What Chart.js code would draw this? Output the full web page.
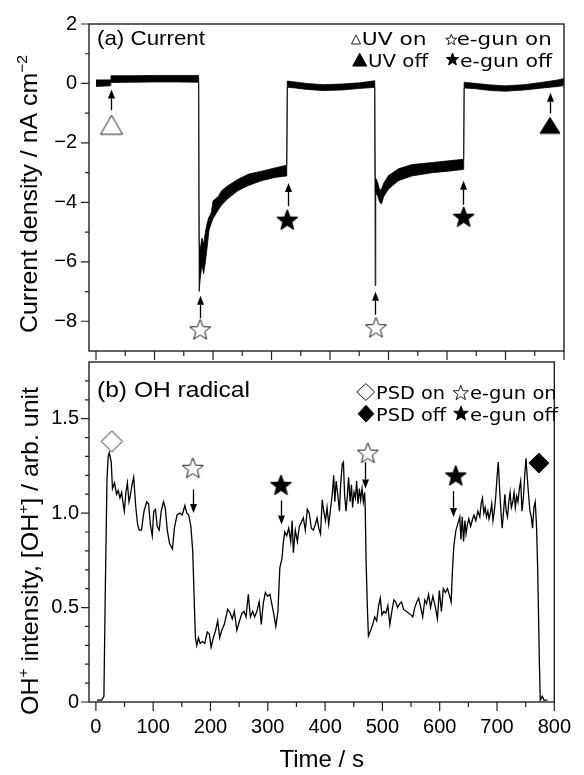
<!DOCTYPE html>
<html>
<head>
<meta charset="utf-8">
<script src="https://cdn.jsdelivr.net/npm/chart.js@4/dist/chart.umd.min.js"></script>
<style>
    html, body { margin: 0; padding: 0; background: #fff; }
    #wrap { position: relative; width: 584px; height: 775px; overflow: hidden; }
    #topCanvas { position: absolute; left: 0; top: 0; }
    #bottomCanvas { position: absolute; left: 0; top: 340px; }
</style>
</head>
<body>
<div id="wrap">
    <canvas id="bottomCanvas" width="584" height="435"></canvas>
    <canvas id="topCanvas" width="584" height="375"></canvas>
</div>
<script>
// (a) current density: the trace is a dense noisy band, kept as [time, upper edge, lower edge]
const currentBand = [
    [0, 0.12, -0.1], [24, 0.12, -0.08], [25.5, 0.26, 0.03], [60, 0.26, 0.04], [100, 0.27, 0.05],
    [140, 0.27, 0.05], [175.5, 0.27, 0.04],
    [176.3, -5.3, -7.0], [178, -5.6, -6.6], [181, -5.2, -6.1], [184, -5.4, -6.4], [187, -5.0, -6.0],
    [190, -4.7, -5.5], [193, -4.5, -4.95], [197, -4.35, -4.7], [200, -3.95, -4.55], [209, -3.8, -4.25],
    [215, -3.6, -4.08], [226, -3.43, -3.86], [243, -3.22, -3.6], [261, -3.05, -3.43], [283, -2.95, -3.27],
    [306, -2.84, -3.16], [326, -2.75, -3.11],
    [327, 0.08, -0.13], [340, 0.05, -0.15], [360, 0.0, -0.2], [388, -0.04, -0.24], [420, -0.02, -0.22],
    [450, 0.02, -0.17], [476.5, 0.09, -0.13],
    [477.2, -3.15, -6.8], [478.2, -3.15, -3.7], [481, -3.3, -3.75], [485, -3.6, -4.0], [488, -3.55, -4.05],
    [492, -3.35, -3.8], [500, -3.1, -3.55], [517, -2.87, -3.27], [540, -2.73, -3.11], [575, -2.66, -3.0],
    [603, -2.6, -2.95], [628.5, -2.55, -2.89],
    [629.3, 0.04, -0.15], [650, 0.0, -0.18], [675, -0.05, -0.24], [700, -0.08, -0.26], [732, -0.04, -0.22],
    [760, 0.03, -0.16], [790, 0.12, -0.1], [800, 0.17, -0.07]
];

// (b) OH+ intensity: [time, intensity]
const ohSignal = [
    [2, 0.01], [10, 0.01], [14, 0.03], [16.5, 0.6], [19.4, 1.18], [21.5, 1.3], [23.4, 1.32], [26.8, 1.27],
    [29, 1.13], [32.5, 1.16], [36, 1.1], [39, 1.12], [42, 1.08], [45, 1.11], [47, 1.06], [49.6, 1.01],
    [52.4, 1.11], [55, 1.16], [57.8, 1.06], [60, 1.09], [63, 1.15], [66, 1.19], [69.4, 1.04], [72.8, 0.94],
    [75.6, 0.91], [79.6, 0.91], [84, 1.01], [88.7, 1.06], [92, 1.05], [95, 0.94], [98.4, 0.88], [101, 1.01],
    [104, 1.02], [107, 0.93], [110.5, 0.91], [114, 1.01], [118, 1.06], [121, 1.03], [124.6, 0.91],
    [128.5, 0.84], [133.6, 0.81], [137, 0.92], [141.6, 0.99], [146.7, 1.0], [150.7, 0.99], [155.3, 1.04],
    [158.7, 1.0], [162, 0.99], [165.8, 0.93], [169, 0.8], [171.5, 0.55], [173.7, 0.34], [176, 0.3],
    [179, 0.34], [182, 0.31], [186, 0.32], [190, 0.31], [194.4, 0.37], [198, 0.36], [201, 0.29],
    [205, 0.34], [209, 0.38], [212.6, 0.43], [216, 0.34], [219.7, 0.38], [224, 0.41], [230, 0.49],
    [234.6, 0.47], [238, 0.44], [241.6, 0.48], [246, 0.38], [250.7, 0.43], [255, 0.47], [258.7, 0.48],
    [262, 0.45], [266, 0.57], [269.6, 0.45], [273.6, 0.48], [277, 0.45], [281, 0.48], [285, 0.53],
    [288.6, 0.41], [292, 0.52], [295.7, 0.58], [299.7, 0.56], [303.7, 0.57], [307, 0.52], [310.8, 0.46],
    [314, 0.4], [317.7, 0.48], [321, 0.71], [324.8, 0.76], [327, 0.84], [329.6, 0.9], [333, 0.88],
    [336.5, 0.92], [340, 0.85], [342.5, 0.96], [344.6, 0.79], [348, 0.91], [351.6, 0.85], [355, 0.93],
    [358.5, 0.95], [362, 0.975], [365.5, 0.91], [369, 1.02], [372.4, 1.0], [376, 0.92], [379.5, 0.91],
    [383, 0.94], [386, 0.975], [389, 0.92], [392, 0.89], [395, 1.07], [397.7, 1.01], [400.6, 0.96],
    [403.4, 1.03], [406.3, 0.94], [409, 1.01], [412.5, 1.1], [415, 1.2], [417, 1.06], [419.3, 1.17],
    [422, 1.1], [425, 1.01], [427.3, 1.16], [430, 1.26], [432, 1.27], [434, 1.1], [436.5, 1.01],
    [439, 1.1], [441, 1.19], [443.6, 1.06], [446, 1.15], [448, 1.03], [450.5, 1.11], [453, 1.08],
    [455, 1.17], [457.5, 1.05], [459.8, 1.13], [462, 1.07], [464.5, 1.13], [466.8, 1.06], [469, 1.11],
    [470, 1.03], [471.5, 0.75], [474, 0.48], [475.6, 0.35], [479.6, 0.38], [483, 0.41], [486.5, 0.45],
    [490, 0.43], [493.4, 0.51], [496.3, 0.55], [499.2, 0.46], [502.6, 0.48], [506, 0.47], [509.5, 0.51],
    [513, 0.41], [516.5, 0.48], [520, 0.54], [523, 0.53], [526.5, 0.5], [530, 0.52], [533.4, 0.53],
    [537, 0.49], [541.6, 0.48], [546, 0.47], [550, 0.46], [553, 0.45], [556.5, 0.5], [560, 0.53],
    [563.3, 0.55], [567, 0.5], [570.3, 0.45], [574, 0.54], [577, 0.52], [580.6, 0.57], [584, 0.5],
    [588, 0.56], [592.6, 0.5], [596, 0.44], [599.4, 0.59], [603, 0.48], [606.3, 0.6], [610, 0.58],
    [613.4, 0.6], [616.5, 0.57], [620, 0.53], [622, 0.68], [624.5, 0.82], [628, 0.905], [631.3, 0.94],
    [635, 0.98], [637, 0.86], [639.3, 0.98], [641.6, 0.85], [644, 0.96], [646, 0.89], [648.4, 0.94],
    [650.8, 0.97], [654, 0.93], [657.5, 0.97], [659.8, 0.99], [663, 0.96], [666.7, 1.01], [670, 0.98],
    [672.3, 1.05], [674.6, 1.08], [677, 1.0], [679.3, 1.03], [681.6, 0.98], [684, 1.01], [686, 0.97],
    [688.4, 1.0], [690.8, 1.05], [693, 0.96], [695.3, 1.01], [697.6, 1.08], [700, 1.19], [702.2, 1.27],
    [704.5, 1.13], [706.8, 1.01], [709, 0.92], [711.5, 1.01], [713.7, 1.1], [716, 1.01], [718.3, 0.98],
    [720.6, 1.06], [722.8, 1.11], [725, 1.03], [727.5, 1.06], [729.8, 1.11], [732, 1.03], [734.4, 1.09],
    [736.6, 1.06], [739, 1.13], [741.3, 1.17], [743.6, 1.01], [746, 1.08], [748.2, 1.19], [750.5, 1.29],
    [752.8, 1.19], [755, 1.1], [757.5, 1.01], [759.8, 0.98], [762, 0.92], [764.4, 1.03], [766.7, 1.06],
    [769, 0.93], [771, 0.7], [774, 0.2], [775.5, 0.01], [779, 0.03], [782, 0.01], [788, 0.01]
];

// event markers and arrows (x = time, y = data value)
const topMarkerX = [26.5, 178, 327, 478.6, 628.5, 776];
const topMarkerY = [-1.39, -8.27, -4.58, -8.2, -4.48, -1.41];
const topMarkerKind = ["triangleOpen", "starOpen", "starFilled", "starOpen", "starFilled", "triangleFilled"];
const topArrowX = [26, 177.8, 327.4, 477.5, 628, 776.6];
const topArrowFrom = [-0.9, -7.9, -4.13, -7.78, -4.08, -1.01];
const topArrowTo = [-0.2, -7.14, -3.35, -7.01, -3.27, -0.31];

const bottomMarkerX = [27.9, 169.2, 323, 474.6, 628, 773];
const bottomMarkerY = [1.38, 1.24, 1.15, 1.32, 1.2, 1.265];
const bottomMarkerKind = ["diamondOpen", "starOpen", "starFilled", "starOpen", "starFilled", "diamondFilled"];
const bottomArrowX = [169.2, 323, 469, 623.3];
const bottomArrowFrom = [1.125, 1.067, 1.27, 1.116];
const bottomArrowTo = [1.0, 0.94, 1.13, 0.98];

// ticks
const xMajorTicks = [0, 100, 200, 300, 400, 500, 600, 700, 800];
const xMinorTicks = [50, 150, 250, 350, 450, 550, 650, 750];
const topYMajorTicks = [-8, -6, -4, -2, 0, 2];
const topYMinorTicks = [-7, -5, -3, -1, 1];
const bottomYMajorTicks = [0, 0.5, 1.0, 1.5];
const bottomYMinorTicks = [0.1, 0.2, 0.3, 0.4, 0.6, 0.7, 0.8, 0.9, 1.1, 1.2, 1.3, 1.4, 1.6, 1.7];

const SANS = "'Liberation Sans', Arial, sans-serif";
const WIDE = "'DejaVu Sans', Verdana, sans-serif";

Chart.defaults.font.family = SANS;
Chart.defaults.color = "#000";

const markerSpecs = {
    triangleOpen: { kind: "triangle", filled: false, w: 22, h: 19 },
    triangleFilled: { kind: "triangle", filled: true, w: 20, h: 16 },
    starOpen: { kind: "star", filled: false, w: 21, h: 20 },
    starFilled: { kind: "star", filled: true, w: 21, h: 20 },
    diamondOpen: { kind: "diamond", filled: false, w: 21, h: 21 },
    diamondFilled: { kind: "diamond", filled: true, w: 20, h: 20 }
};

function shapePath(g, kind, cx, cy, w, h) {
    g.beginPath();
    if (kind === "star") {
        const r = w / 1.902;
        const oy = cy + 0.0955 * r;
        for (let i = 0; i < 10; i++) {
            const a = -Math.PI / 2 + i * Math.PI / 5;
            const rr = i % 2 ? r * 0.42 : r;
            g.lineTo(cx + rr * Math.cos(a), oy + rr * Math.sin(a));
        }
    } else if (kind === "triangle") {
        g.moveTo(cx, cy - h / 2);
        g.lineTo(cx + w / 2, cy + h / 2);
        g.lineTo(cx - w / 2, cy + h / 2);
    } else {
        g.moveTo(cx, cy - h / 2);
        g.lineTo(cx + w / 2, cy);
        g.lineTo(cx, cy + h / 2);
        g.lineTo(cx - w / 2, cy);
    }
    g.closePath();
}

function paintShape(g, kind, filled, cx, cy, w, h) {
    shapePath(g, kind, cx, cy, w, h);
    g.fillStyle = filled ? "#000" : "#fff";
    g.fill();
    g.lineWidth = 1;
    g.strokeStyle = filled ? "#000" : "#1a1a1a";
    g.stroke();
}

function markerImage(name) {
    const spec = markerSpecs[name];
    const c = document.createElement("canvas");
    c.width = Math.ceil(spec.w) + 4;
    c.height = Math.ceil(spec.h) + 4;
    paintShape(c.getContext("2d"), spec.kind, spec.filled, c.width / 2, c.height / 2, spec.w, spec.h);
    return c;
}

// text helpers: draw text stretched along its run to a measured length
function richWidth(ctx, segs, size, family) {
    let w = 0;
    segs.forEach((s) => {
        ctx.font = `${s.sup ? Math.round(size * 0.62) : size}px ${family}`;
        w += ctx.measureText(s.t).width;
    });
    return w;
}

function drawRich(ctx, segs, size, family) {
    let x = 0;
    segs.forEach((s) => {
        ctx.font = `${s.sup ? Math.round(size * 0.62) : size}px ${family}`;
        ctx.fillText(s.t, x, s.sup ? -size * 0.4 : 0);
        x += ctx.measureText(s.t).width;
    });
}

function fitText(ctx, item) {
    const segs = typeof item.text === "string" ? [{ t: item.text }] : item.text;
    const w = richWidth(ctx, segs, item.size, item.family);
    ctx.save();
    ctx.translate(item.x, item.y);
    if (item.rotate) ctx.rotate(-Math.PI / 2);
    ctx.scale(item.width / w, 1);
    if (item.center) ctx.translate(-w / 2, 0);
    ctx.textBaseline = "alphabetic";
    ctx.textAlign = "left";
    ctx.fillStyle = "#000";
    drawRich(ctx, segs, item.size, item.family);
    ctx.restore();
}

function makeDecor(cfg) {
    return {
        id: "decor",
        afterDraw(chart) {
            const { ctx, chartArea: a } = chart;
            const xs = chart.scales.x;
            const ys = chart.scales.y;
            ctx.save();

            // arrows
            ctx.fillStyle = "#000";
            ctx.strokeStyle = "#000";
            cfg.arrowX.forEach((v, i) => {
                const px = Math.round(xs.getPixelForValue(v)) + 0.5;
                const y0 = ys.getPixelForValue(cfg.arrowFrom[i]);
                const y1 = ys.getPixelForValue(cfg.arrowTo[i]);
                const dir = Math.sign(y1 - y0);
                const head = 9;
                ctx.lineWidth = 1.3;
                ctx.beginPath();
                ctx.moveTo(px, y0);
                ctx.lineTo(px, y1 - dir * head);
                ctx.stroke();
                ctx.beginPath();
                ctx.moveTo(px, y1);
                ctx.lineTo(px - 3.5, y1 - dir * head);
                ctx.lineTo(px + 3.5, y1 - dir * head);
                ctx.closePath();
                ctx.fill();
            });

            // frame and tick marks
            ctx.strokeStyle = "#222";
            ctx.lineWidth = 1.4;
            ctx.strokeRect(a.left, a.top, a.right - a.left, a.bottom - a.top);
            ctx.lineWidth = 1.2;
            ctx.beginPath();
            xMajorTicks.forEach((v) => {
                const px = xs.getPixelForValue(v);
                ctx.moveTo(px, a.bottom);
                ctx.lineTo(px, a.bottom + 9);
            });
            xMinorTicks.forEach((v) => {
                const px = xs.getPixelForValue(v);
                ctx.moveTo(px, a.bottom);
                ctx.lineTo(px, a.bottom + 5);
            });
            cfg.yMajor.forEach((v) => {
                const py = ys.getPixelForValue(v);
                ctx.moveTo(a.left - 8, py);
                ctx.lineTo(a.left, py);
            });
            cfg.yMinor.forEach((v) => {
                const py = ys.getPixelForValue(v);
                ctx.moveTo(a.left - 4, py);
                ctx.lineTo(a.left, py);
            });
            ctx.stroke();

            // page-positioned text: panel label, legend, y title
            ctx.translate(0, -cfg.offsetTop);
            cfg.legendShapes.forEach((s) => paintShape(ctx, s.kind, s.filled, s.cx, s.cy, s.w, s.h));
            cfg.texts.forEach((t) => fitText(ctx, t));
            ctx.restore();
        }
    };
}

const topChart = new Chart(document.getElementById("topCanvas"), {
    type: "line",
    data: {
        datasets: [
            {
                data: topMarkerX.map((x, i) => ({ x, y: topMarkerY[i] })),
                showLine: false,
                pointRadius: 6,
                pointStyle: topMarkerKind.map(markerImage)
            },
            {
                data: currentBand.map((p) => ({ x: p[0], y: p[1] })),
                borderColor: "#000",
                backgroundColor: "#000",
                borderWidth: 0.8,
                pointRadius: 0,
                fill: "+1"
            },
            {
                data: currentBand.map((p) => ({ x: p[0], y: p[2] })),
                borderColor: "#000",
                borderWidth: 0.8,
                pointRadius: 0,
                fill: false
            }
        ]
    },
    options: {
        responsive: false,
        animation: false,
        layout: { padding: { top: 20, right: 20, bottom: 15, left: 0 } },
        plugins: { legend: { display: false }, tooltip: { enabled: false } },
        scales: {
            x: { type: "linear", min: -12, max: 800, display: false },
            y: {
                min: -9,
                max: 2,
                afterFit: (s) => { s.width = 89; },
                afterBuildTicks: (s) => { s.ticks = topYMajorTicks.map((value) => ({ value })); },
                grid: { display: false, drawTicks: false },
                border: { display: false },
                ticks: {
                    padding: 12,
                    font: { size: 20 },
                    callback: (v) => String(v).replace("-", "\u2212")
                }
            }
        }
    },
    plugins: [makeDecor({
        offsetTop: 0,
        arrowX: topArrowX, arrowFrom: topArrowFrom, arrowTo: topArrowTo,
        yMajor: topYMajorTicks, yMinor: topYMinorTicks,
        legendShapes: [
            { kind: "triangle", filled: false, cx: 356, cy: 39.5, w: 9, h: 9 },
            { kind: "star", filled: false, cx: 451.3, cy: 39.5, w: 11, h: 10 },
            { kind: "triangle", filled: true, cx: 359.7, cy: 59.7, w: 14, h: 12.7 },
            { kind: "star", filled: true, cx: 452.5, cy: 59, w: 12.5, h: 12 }
        ],
        texts: [
            { text: "(a) Current", x: 97, y: 45, width: 108, size: 21, family: SANS },
            { text: "UV on", x: 361.7, y: 45, width: 65, size: 17, family: WIDE },
            { text: "e-gun on", x: 456.7, y: 45, width: 95, size: 17, family: WIDE },
            { text: "UV off", x: 368, y: 66.5, width: 60, size: 17, family: WIDE },
            { text: "e-gun off", x: 460, y: 66.5, width: 92, size: 17, family: WIDE },
            {
                text: [{ t: "Current density / nA cm" }, { t: "\u22122", sup: true }],
                x: 37, y: 194, width: 278, size: 24, family: SANS, rotate: true, center: true
            }
        ]
    })]
});

const bottomChart = new Chart(document.getElementById("bottomCanvas"), {
    type: "line",
    data: {
        datasets: [
            {
                data: bottomMarkerX.map((x, i) => ({ x, y: bottomMarkerY[i] })),
                showLine: false,
                pointRadius: 6,
                pointStyle: bottomMarkerKind.map(markerImage)
            },
            {
                data: ohSignal.map((p) => ({ x: p[0], y: p[1] })),
                borderColor: "#000",
                borderWidth: 1.3,
                pointRadius: 0,
                fill: false
            }
        ]
    },
    options: {
        responsive: false,
        animation: false,
        layout: { padding: { top: 20, right: 20, bottom: 0, left: 0 } },
        plugins: { legend: { display: false }, tooltip: { enabled: false } },
        scales: {
            x: {
                type: "linear",
                min: -12,
                max: 800,
                afterFit: (s) => { s.height = 73; },
                afterBuildTicks: (s) => { s.ticks = xMajorTicks.map((value) => ({ value })); },
                grid: { display: false, drawTicks: false },
                border: { display: false },
                ticks: { padding: 13, maxRotation: 0, font: { size: 20 } },
                title: { display: true, text: "Time / s", font: { size: 24 }, padding: { top: 0, bottom: 0 } }
            },
            y: {
                min: 0,
                max: 1.8,
                afterFit: (s) => { s.width = 89; },
                afterBuildTicks: (s) => { s.ticks = bottomYMajorTicks.map((value) => ({ value })); },
                grid: { display: false, drawTicks: false },
                border: { display: false },
                ticks: {
                    padding: 10,
                    font: { size: 20 },
                    callback: (v) => (v === 0 ? "0" : v.toFixed(1))
                }
            }
        }
    },
    plugins: [makeDecor({
        offsetTop: 340,
        arrowX: bottomArrowX, arrowFrom: bottomArrowFrom, arrowTo: bottomArrowTo,
        yMajor: bottomYMajorTicks, yMinor: bottomYMinorTicks,
        legendShapes: [
            { kind: "diamond", filled: false, cx: 365.8, cy: 392, w: 18, h: 16.7 },
            { kind: "star", filled: false, cx: 460.8, cy: 392.5, w: 15, h: 14 },
            { kind: "diamond", filled: true, cx: 366, cy: 413.7, w: 15.7, h: 16.7 },
            { kind: "star", filled: true, cx: 461, cy: 413, w: 14.5, h: 14 }
        ],
        texts: [
            { text: "(b) OH radical", x: 97, y: 397, width: 153, size: 22, family: SANS },
            { text: "PSD on", x: 376, y: 398.7, width: 69, size: 18, family: WIDE },
            { text: "e-gun on", x: 470, y: 398.7, width: 86.7, size: 18, family: WIDE },
            { text: "PSD off", x: 376, y: 421.3, width: 70, size: 18, family: WIDE },
            { text: "e-gun off", x: 470, y: 421.3, width: 88, size: 18, family: WIDE },
            {
                text: [{ t: "OH" }, { t: "+", sup: true }, { t: " intensity, [OH" }, { t: "+", sup: true }, { t: "] / arb. unit" }],
                x: 38, y: 551, width: 328, size: 24, family: SANS, rotate: true, center: true
            }
        ]
    })]
});
</script>
</body>
</html>
